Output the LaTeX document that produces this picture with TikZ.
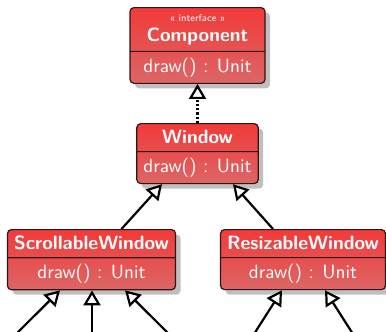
\documentclass[tikz,border=0pt]{standalone}
\usepackage{tikz}
\usetikzlibrary{shapes.multipart,shadows,arrows.meta}

\definecolor{classtop}{RGB}{242,58,58}
\definecolor{classbot}{RGB}{220,102,102}
\definecolor{classline}{RGB}{50,20,20}
\newcommand{\headstrut}{\rule[-0.8pt]{0pt}{7.6pt}}

\begin{document}
\begin{tikzpicture}[x=0.5pt, y=-0.5pt,
  umlclass/.style={rectangle split, rectangle split parts=2, anchor=north,
    draw=classline, line width=0.6pt, rounded corners=2pt,
    top color=classtop, bottom color=classbot, text=white,
    font=\sffamily\fontsize{9.6}{11.5}\selectfont, align=center,
    inner xsep=3.3pt, inner ysep=2.9pt,
    drop shadow={shadow xshift=2.5pt, shadow yshift=-2.5pt}},
  inherit/.style={line width=1.1pt, -{Triangle[open, length=7.5pt, width=8.5pt, fill=white]}},
  implement/.style={inherit, densely dotted}]
\useasboundingbox (0,0) rectangle (386,332);
\clip (0,0) rectangle (386,332);

\node[umlclass, minimum width=67.5pt] (comp) at (197.5,7) {{\tiny « interface »}\\[-1.4pt]\headstrut\textbf{Component}\nodepart{second}draw() : Unit};
\node[umlclass] (win) at (197.5,123) {\headstrut\textbf{Window}\nodepart{second}draw() : Unit};
\node[umlclass] (scroll) at (91.5,229) {\headstrut\textbf{ScrollableWindow}\nodepart{second}draw() : Unit};
\node[umlclass] (resize) at (303,229) {\headstrut\textbf{ResizableWindow}\nodepart{second}draw() : Unit};

\coordinate (s1) at (5,345);
\coordinate (s2) at (92,345);
\coordinate (s3) at (180,345);
\coordinate (r1) at (247,345);
\coordinate (r2) at (360,345);

\draw[implement] (win.north) -- (comp.south);
\draw[inherit] ([xshift=15pt]scroll.north) -- ([xshift=-17.75pt]win.south);
\draw[inherit] ([xshift=-15pt]resize.north) -- ([xshift=17.75pt]win.south);

\draw[inherit] (s1) -- ([xshift=-15.75pt]scroll.south);
\draw[inherit] (s2) -- ([xshift=0.25pt]scroll.south);
\draw[inherit] (s3) -- ([xshift=16.75pt]scroll.south);
\draw[inherit] (r1) -- ([xshift=-10.5pt]resize.south);
\draw[inherit] (r2) -- ([xshift=11pt]resize.south);
\end{tikzpicture}
\end{document}
